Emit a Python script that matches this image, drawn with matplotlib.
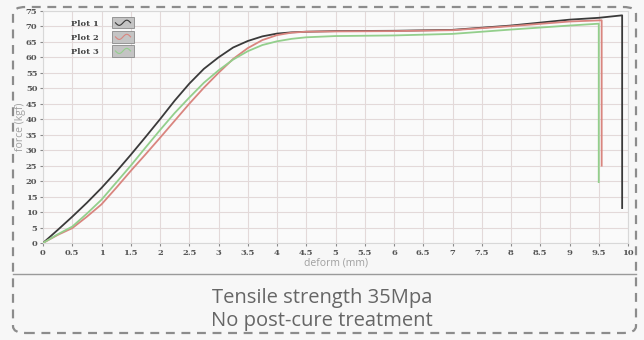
import matplotlib
matplotlib.use("Agg")
import matplotlib.pyplot as plt
from matplotlib.patches import FancyBboxPatch, Rectangle
from matplotlib.lines import Line2D
from matplotlib.legend_handler import HandlerBase
import numpy as np

# ---- data ----
x1 = [0, 0.25, 0.5, 0.75, 1, 1.25, 1.5, 1.75, 2, 2.25, 2.5, 2.75, 3, 3.25, 3.5, 3.75,
      4, 4.25, 4.5, 5, 6, 7, 8, 9, 9.5, 9.9, 9.9]
y1 = [0, 4.2, 8.5, 13, 17.8, 23, 28.5, 34.2, 40, 46, 51.5, 56.3, 60, 63.2, 65.3, 66.8,
      67.7, 68.1, 68.3, 68.5, 68.6, 68.9, 70.3, 72.2, 72.8, 73.6, 11.3]
x2 = [0, 0.25, 0.5, 0.75, 1, 1.25, 1.5, 1.75, 2, 2.25, 2.5, 2.75, 3, 3.25, 3.5, 3.75,
      4, 4.25, 4.5, 5, 6, 7, 8, 9, 9.55, 9.55]
y2 = [0, 2.6, 4.8, 8.5, 12.5, 17.8, 23.3, 28.6, 34, 39.5, 45, 50.2, 55, 59.5, 63, 65.6,
      67.2, 68, 68.3, 68.4, 68.5, 68.8, 70.1, 71.6, 72.0, 25]
x3 = [0, 0.25, 0.5, 0.75, 1, 1.25, 1.5, 1.75, 2, 2.25, 2.5, 2.75, 3, 3.25, 3.5, 3.75,
      4, 4.25, 4.5, 5, 6, 7, 8, 9, 9.5, 9.5]
y3 = [0, 2.8, 5.3, 9.5, 14, 19.5, 25, 30.8, 36.5, 42, 47, 51.8, 55.8, 59.3, 62, 64,
      65.2, 66, 66.5, 66.9, 67.1, 67.6, 69, 70.3, 70.9, 19.7]
series_labels = ["Plot 1", "Plot 2", "Plot 3"]
x_ticks = [i * 0.5 for i in range(21)]
x_tick_labels = ["0", "0.5", "1", "1.5", "2", "2.5", "3", "3.5", "4", "4.5", "5",
                 "5.5", "6", "6.5", "7", "7.5", "8", "8.5", "9", "9.5", "10"]
y_ticks = list(range(0, 80, 5))
caption = ["Tensile strength 35Mpa", "No post-cure treatment"]

colors = ["#3a3a3a", "#d9857f", "#93cf8c"]

fig = plt.figure(figsize=(6.44, 3.40), dpi=100)
fig.patch.set_facecolor("#f7f7f7")

W, H = 644.0, 340.0
ax = fig.add_axes([43 / W, 1 - 243 / H, (628 - 43) / W, (243 - 11) / H])
ax.set_facecolor("#fafafa")

for xs, ys, c, lab in zip([x1, x2, x3], [y1, y2, y3], colors, series_labels):
    ax.plot(xs, ys, color=c, lw=1.3, label=lab, zorder=3, solid_joinstyle="round")

ax.set_xlim(0, 10)
ax.set_ylim(0, 75)
ax.set_xticks(x_ticks)
ax.set_xticklabels(x_tick_labels)
ax.set_yticks(y_ticks)
ax.grid(True, color="#e3d9d9", lw=0.8)
ax.set_axisbelow(True)
for s in ax.spines.values():
    s.set_color("#d8d8d8")
    s.set_linewidth(0.8)
ax.tick_params(axis="both", labelsize=6, colors="#8a8a8a", length=2, width=0.8,
               labelcolor="#555555", pad=2)
for lbl in ax.get_xticklabels() + ax.get_yticklabels():
    lbl.set_family("DejaVu Serif")
    lbl.set_weight("bold")

ax.set_xlabel("deform (mm)", fontsize=7.5, color="#a0a0a0", labelpad=1, family="Open Sans")
ax.set_ylabel("force (kgf)", fontsize=7.5, color="#a0a0a0", labelpad=0, family="Open Sans")


class BoxHandler(HandlerBase):
    def __init__(self, color):
        super().__init__()
        self.color = color

    def create_artists(self, legend, orig_handle, xdescent, ydescent, width, height, fontsize, trans):
        r = Rectangle((-xdescent, -ydescent - 1), width, height + 2, facecolor="#c4c4c4",
                      edgecolor="#8a8a8a", lw=0.6, transform=trans)
        t = np.linspace(0, 1, 30)
        lx = -xdescent + width * (0.15 + 0.7 * t)
        ly = -ydescent + height * (0.5 + 0.3 * np.sin(2 * np.pi * t) * -1)
        ln = Line2D(lx, ly, color=self.color, lw=0.8, transform=trans)
        return [r, ln]


handles = ax.get_lines()
leg = ax.legend(handles, series_labels, loc="upper left", bbox_to_anchor=(0.035, 1.0),
                frameon=False, fontsize=6, handlelength=2.6, handleheight=1.2,
                labelspacing=0.6, markerfirst=False, handletextpad=1.6,
                handler_map={h: BoxHandler(c) for h, c in zip(handles, colors)},
                prop={"family": "DejaVu Serif", "weight": "bold", "size": 6})
for t in leg.get_texts():
    t.set_color("#444444")

# dashed rounded frame
frame = FancyBboxPatch((13 / W, 7 / H), (636 - 13) / W, (333 - 7) / H,
                       boxstyle="round,pad=0,rounding_size=0.02",
                       transform=fig.transFigure, facecolor="none",
                       edgecolor="#8c8c8c", lw=1.6, linestyle=(0, (4, 3)), zorder=0)
fig.patches.append(frame)
fig.add_artist(Line2D([13 / W, 636 / W], [1 - 274 / H, 1 - 274 / H], color="#9a9a9a",
                      lw=1.0, transform=fig.transFigure))

fig.text(0.5, 1 - 298 / H, caption[0], ha="center", va="center", fontsize=14.5,
         color="#666666", family="Open Sans", weight="medium")
fig.text(0.5, 1 - 321 / H, caption[1], ha="center", va="center", fontsize=14.5,
         color="#666666", family="Open Sans", weight="medium")

fig.savefig("out.png", dpi=100, facecolor=fig.get_facecolor())
